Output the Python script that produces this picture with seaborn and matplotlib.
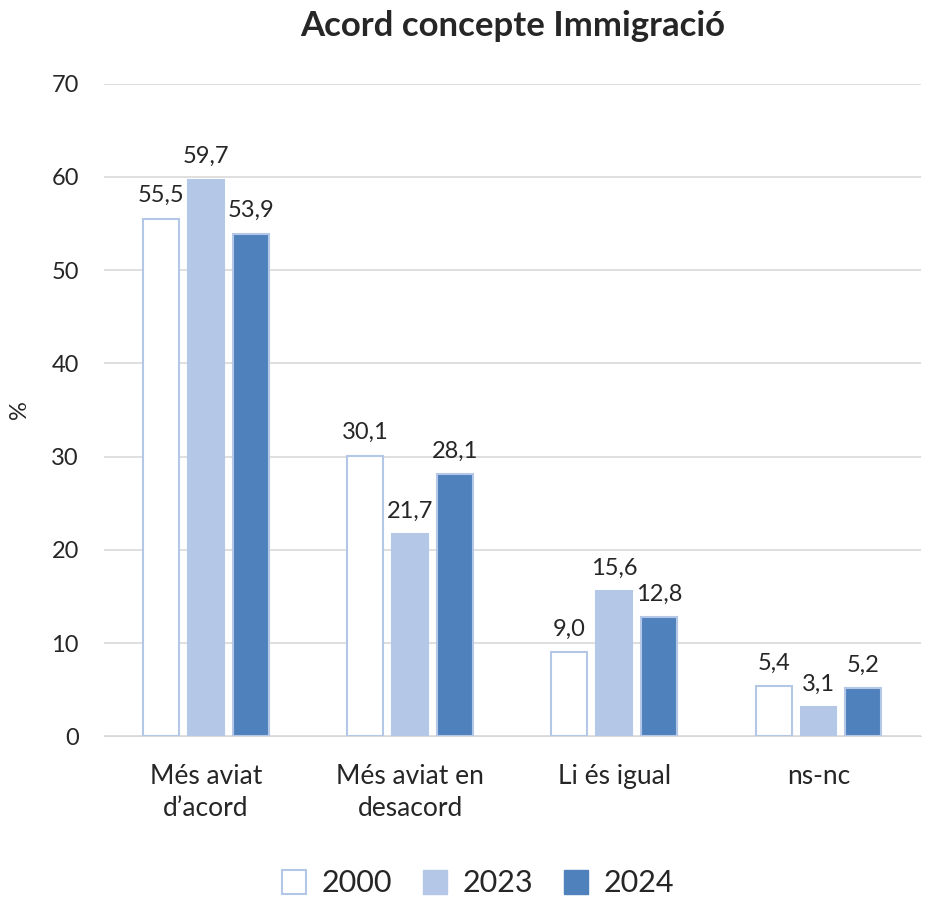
import seaborn as sns
import matplotlib.pyplot as plt
import pandas as pd
from matplotlib.patches import Patch

sns.set_style("white")
plt.rcParams['font.family'] = ['Lato', 'DejaVu Sans']

categories = ["Més aviat\nd’acord", "Més aviat en\ndesacord", "Li és igual", "ns-nc"]
years = ["2000", "2023", "2024"]
v2000 = [55.5, 30.1, 9.0, 5.4]
v2023 = [59.7, 21.7, 15.6, 3.1]
v2024 = [53.9, 28.1, 12.8, 5.2]

df = pd.DataFrame({
    "cat": categories * 3,
    "year": [y for y in years for _ in categories],
    "val": v2000 + v2023 + v2024,
})

light = "#B4C7E7"
dark = "#4F81BD"
palette = {"2000": "white", "2023": light, "2024": dark}

fig = plt.figure(figsize=(9.28, 8.98), dpi=100)
ax = fig.add_axes([0.112, 0.180, 0.880, 0.727])
sns.barplot(data=df, x="cat", y="val", hue="year", palette=palette, saturation=1,
            width=0.66, gap=0.2, ax=ax, legend=False, zorder=3)

for cont, y in zip(ax.containers, years):
    for b in cont:
        b.set_edgecolor(light)
        b.set_linewidth(1.5)
    ax.bar_label(cont, labels=[f"{v:.1f}".replace(".", ",") for v in cont.datavalues],
                 padding=9, fontsize=17)

ax.set_ylim(0, 70)
ax.set_yticks(range(0, 71, 10))
ax.yaxis.grid(True, color="#D9D9D9", linewidth=1.2, zorder=0)
ax.set_axisbelow(True)
for s in ["left", "right", "top"]:
    ax.spines[s].set_visible(False)
ax.spines["bottom"].set_color("#D9D9D9")
ax.tick_params(axis="y", labelsize=17, length=0, pad=18)
ax.tick_params(axis="x", labelsize=19, length=0, pad=20)
for t in ax.get_xticklabels():
    t.set_linespacing(1.35)
ax.set_xlabel("")
ax.set_ylabel("%", fontsize=17)
ax.yaxis.set_label_coords(-0.09, 0.5)
ax.set_title("Acord concepte Immigració", fontsize=25, fontweight="bold", pad=34)

handles = [Patch(facecolor="white", edgecolor=light, linewidth=1.5),
           Patch(facecolor=light, edgecolor=light),
           Patch(facecolor=dark, edgecolor=dark)]
fig.legend(handles, years, loc="lower center", bbox_to_anchor=(0.515, -0.03),
           ncol=3, frameon=False, fontsize=22, handlelength=0.8, handleheight=0.8,
           handletextpad=0.5, columnspacing=1.0)

plt.savefig("out.png", dpi=100)
plt.close()
